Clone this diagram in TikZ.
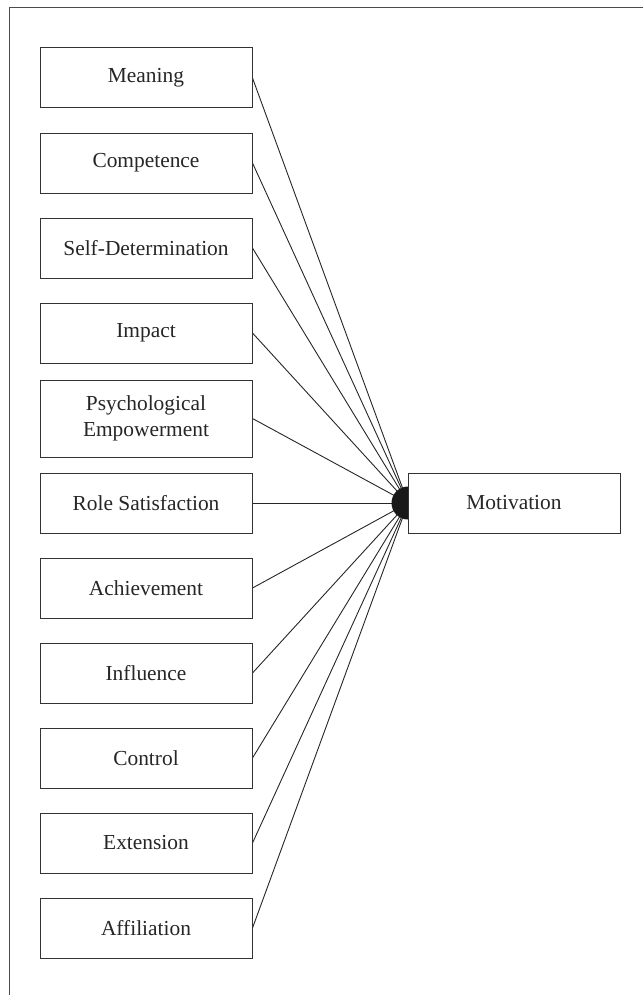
\documentclass[tikz,border=0pt]{standalone}
\usepackage{fontspec}
\setmainfont{Liberation Serif}
\usetikzlibrary{backgrounds}
\tikzset{
    factor diagram/.style = {x=0.5pt, y=-0.5pt},
    line/.style           = {line width=0.45pt, draw=black!85},
    block/.style          = {draw=black!80, line width=0.5pt, fill=white,
                             text=black!85, align=center, inner sep=2pt,
                             minimum width=106pt, minimum height=30pt,
                             font=\fontsize{10.7}{13}\selectfont},
    tall block/.style     = {block, minimum height=38.5pt},
    hub/.style            = {circle, fill=black!90, inner sep=0pt,
                             minimum size=16.5pt},
    frame/.style          = {line width=0.5pt, draw=black!70}
}
\def\factorcol{146}
\def\outcomecol{514}

\begin{document}
\begin{tikzpicture}[factor diagram]
\useasboundingbox (0,0) rectangle (643,995);

% Open frame along the top and left edges.
\coordinate (frame bl) at (9,995);
\coordinate (frame tl) at (9,8);
\coordinate (frame tr) at (643,8);
\draw[frame] (frame bl) -- (frame tl) -- (frame tr);

% Factor column.
\node[block] (meaning)     at (\factorcol,78)  {Meaning};
\node[block] (competence)  at (\factorcol,163) {Competence};
\node[block] (selfdet)     at (\factorcol,248) {Self-Determination};
\node[block] (impact)      at (\factorcol,333) {Impact};
\node[tall block] (psyemp) at (\factorcol,418.5)
    {Psychological\\Empowerment};
\node[block] (role)        at (\factorcol,503) {Role Satisfaction};
\node[block] (achieve)     at (\factorcol,588) {Achievement};
\node[block] (influence)   at (\factorcol,673) {Influence};
\node[block] (control)     at (\factorcol,758) {Control};
\node[block] (extension)   at (\factorcol,843) {Extension};
\node[block] (affiliation) at (\factorcol,928) {Affiliation};

% Outcome with the junction dot half hidden behind it.
\node[hub] (hub) at (408,503) {};
\node[block] (motivation)  at (\outcomecol,503) {Motivation};

% Every factor feeds the junction.
\begin{scope}[on background layer]
    \draw[line] (meaning.east)     -- (hub.center);
    \draw[line] (competence.east)  -- (hub.center);
    \draw[line] (selfdet.east)     -- (hub.center);
    \draw[line] (impact.east)      -- (hub.center);
    \draw[line] (psyemp.east)      -- (hub.center);
    \draw[line] (role.east)        -- (hub.center);
    \draw[line] (achieve.east)     -- (hub.center);
    \draw[line] (influence.east)   -- (hub.center);
    \draw[line] (control.east)     -- (hub.center);
    \draw[line] (extension.east)   -- (hub.center);
    \draw[line] (affiliation.east) -- (hub.center);
\end{scope}

\end{tikzpicture}
\end{document}
